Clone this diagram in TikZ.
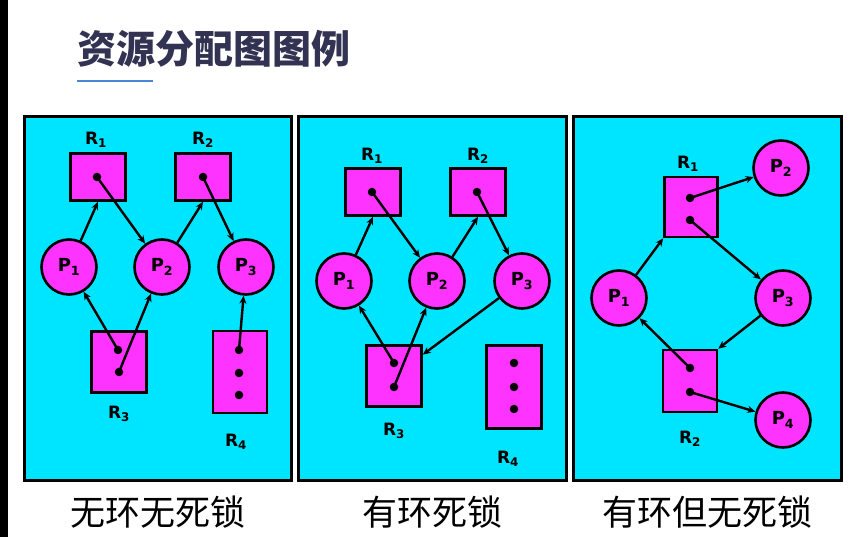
\documentclass[tikz,border=0pt]{standalone}
\usepackage{fontspec}
\setmainfont{DejaVu Sans}
\newfontfamily\cjk{Noto Sans CJK SC}
\usetikzlibrary{arrows.meta}
\definecolor{panelcyan}{RGB}{0,229,255}
\definecolor{nodemag}{RGB}{255,51,255}
\definecolor{titleink}{RGB}{50,50,82}
\definecolor{ruleblue}{RGB}{74,134,212}
\tikzset{
  panel/.style={draw=black,line width=3pt,fill=panelcyan},
  proc/.style={circle,draw=black,line width=2.6pt,fill=nodemag,minimum size=55pt,
               inner sep=0pt,font=\bfseries\fontsize{18}{18}\selectfont},
  res/.style={rectangle,draw=black,line width=2.6pt,fill=nodemag,inner sep=0pt},
  tok/.style={circle,fill=black,minimum size=8.5pt,inner sep=0pt},
  lab/.style={font=\bfseries\fontsize{17}{17}\selectfont,inner sep=0pt},
  flow/.style={-{Stealth[length=8pt,width=7pt,inset=2.5pt]},line width=2.4pt},
  caption/.style={font=\cjk\fontsize{35}{35}\selectfont,inner sep=0pt}
}

\begin{document}
\begin{tikzpicture}[x=1pt,y=-1pt]
  \useasboundingbox (0,0) rectangle (855,537);
  \fill[black] (0,0) rectangle (8,537);
  % title
  \node[anchor=west,inner sep=0pt,text=titleink,font=\cjk\bfseries\fontsize{39}{39}\selectfont] (title) at (77,49) {资源分配图图例};
  \draw[ruleblue,line width=2.5pt] (77,81) -- (153,81);
  % panels
  \draw[panel] (24,117) rectangle (291,481);
  \draw[panel] (298,117) rectangle (566,481);
  \draw[panel] (573,117) rectangle (841,481);

  % --- panel 1: no cycle, no deadlock
  \node[res,minimum width=55pt,minimum height=47pt] (ar1) at (98,177) {};
  \node[res,minimum width=55pt,minimum height=47pt] (ar2) at (203,177) {};
  \node[res,minimum width=55pt,minimum height=61pt] (ar3) at (119,362) {};
  \node[res,minimum width=54pt,minimum height=82pt] (ar4) at (240,372) {};
  \node[proc] (ap1) at (69,267) {P\textsubscript{1}};
  \node[proc] (ap2) at (162,267) {P\textsubscript{2}};
  \node[proc] (ap3) at (246,267) {P\textsubscript{3}};
  \node[tok] (at11) at (97,177) {};
  \node[tok] (at21) at (203,177) {};
  \node[tok] (at31) at (118,350) {};
  \node[tok] (at32) at (119,372) {};
  \node[tok] (at41) at (239,350) {};
  \node[tok] (at42) at (239,373) {};
  \node[tok] (at43) at (239,395) {};
  \node[lab] (al1) at (96,140) {R\textsubscript{1}};
  \node[lab] (al2) at (203,140) {R\textsubscript{2}};
  \node[lab] (al3) at (119,414) {R\textsubscript{3}};
  \node[lab] (al4) at (236,442) {R\textsubscript{4}};
  \draw[flow] (ap1) -- (ar1.south);
  \draw[flow] (at11.center) -- (ap2);
  \draw[flow] (ap2) -- (ar2.south);
  \draw[flow] (at21.center) -- (ap3);
  \draw[flow] (at31.center) -- (ap1);
  \draw[flow] (at32.center) -- (ap2);
  \draw[flow] (at41.center) -- (ap3);

  % --- panel 2: cycle, deadlock
  \node[res,minimum width=55pt,minimum height=47pt] (br1) at (373,192) {};
  \node[res,minimum width=55pt,minimum height=47pt] (br2) at (478,192) {};
  \node[res,minimum width=55pt,minimum height=61pt] (br3) at (394,376) {};
  \node[res,minimum width=55pt,minimum height=83pt] (br4) at (514,387) {};
  \node[proc] (bp1) at (344,281) {P\textsubscript{1}};
  \node[proc] (bp2) at (437,281) {P\textsubscript{2}};
  \node[proc] (bp3) at (522,281) {P\textsubscript{3}};
  \node[tok] (bt11) at (372,192) {};
  \node[tok] (bt21) at (477,192) {};
  \node[tok] (bt31) at (394,363) {};
  \node[tok] (bt32) at (394,387) {};
  \node[tok] (bt41) at (514,363) {};
  \node[tok] (bt42) at (514,387) {};
  \node[tok] (bt43) at (514,409) {};
  \node[lab] (bl1) at (372,156) {R\textsubscript{1}};
  \node[lab] (bl2) at (478,156) {R\textsubscript{2}};
  \node[lab] (bl3) at (394,431) {R\textsubscript{3}};
  \node[lab] (bl4) at (508,459) {R\textsubscript{4}};
  \draw[flow] (bp1) -- (br1.south);
  \draw[flow] (bt11.center) -- (bp2);
  \draw[flow] (bp2) -- (br2.south);
  \draw[flow] (bt21.center) -- (bp3);
  \draw[flow] (bt31.center) -- (bp1);
  \draw[flow] (bt32.center) -- (bp2);
  \draw[flow] (bp3) -- (br3);

  % --- panel 3: cycle, no deadlock
  \node[res,minimum width=53pt,minimum height=60pt] (cr1) at (691,207) {};
  \node[res,minimum width=54pt,minimum height=62pt] (cr2) at (690,381) {};
  \node[proc] (cp1) at (619,298) {P\textsubscript{1}};
  \node[proc] (cp2) at (781,168) {P\textsubscript{2}};
  \node[proc] (cp3) at (783,298) {P\textsubscript{3}};
  \node[proc] (cp4) at (783,420) {P\textsubscript{4}};
  \node[tok] (ct11) at (690,198) {};
  \node[tok] (ct12) at (690,220) {};
  \node[tok] (ct21) at (690,368) {};
  \node[tok] (ct22) at (690,392) {};
  \node[lab] (cl1) at (688,164) {R\textsubscript{1}};
  \node[lab] (cl2) at (690,439) {R\textsubscript{2}};
  \draw[flow] (cp1) -- (cr1.south west);
  \draw[flow] (ct11.center) -- (cp2);
  \draw[flow] (ct12.center) -- (cp3);
  \draw[flow] (cp3) -- (cr2.north east);
  \draw[flow] (ct21.center) -- (cp1);
  \draw[flow] (ct22.center) -- (cp4);

  % captions
  \node[caption] (cap1) at (158,512) {无环无死锁};
  \node[caption] (cap2) at (432,512) {有环死锁};
  \node[caption] (cap3) at (707,512) {有环但无死锁};
\end{tikzpicture}
\end{document}
